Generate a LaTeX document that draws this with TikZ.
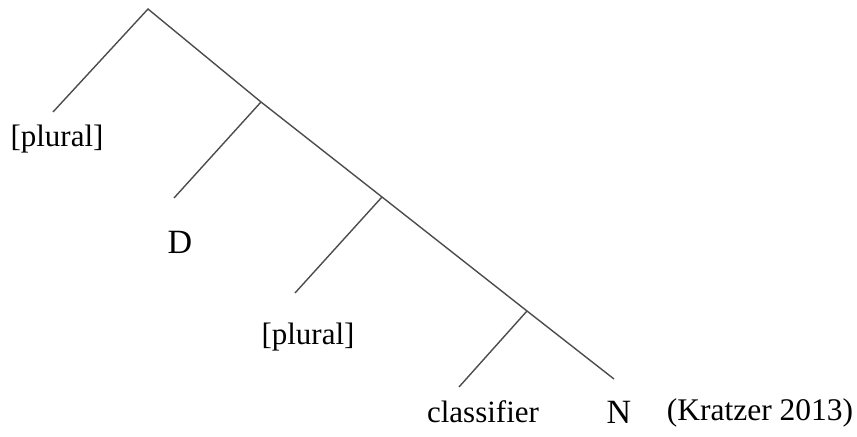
\documentclass[tikz,border=0pt]{standalone}
\usepackage{fontspec}
\setmainfont{Liberation Serif}
\begin{document}
\begin{tikzpicture}[x=0.5pt,y=-0.5pt,
  branch/.style={draw=black!70,line width=0.7pt},
  lab/.style={inner sep=0pt,font=\fontsize{15.5}{18}\selectfont},
  caplab/.style={inner sep=0pt,font=\fontsize{17}{20}\selectfont}]
\useasboundingbox (0,0) rectangle (857,437);
\coordinate (root) at (148,9);
\coordinate (b1) at (261,102);
\coordinate (b2) at (382,197);
\coordinate (b3) at (527,311);
\coordinate (e0) at (53,112);
\coordinate (e1) at (174,198);
\coordinate (e2) at (295,293);
\coordinate (e3) at (459,387);
\coordinate (eN) at (614,379);
\draw[branch] (e0) -- (root) -- (b1) -- (b2) -- (b3) -- (eN);
\draw[branch] (b1) -- (e1);
\draw[branch] (b2) -- (e2);
\draw[branch] (b3) -- (e3);
\node[lab] (pl1) at (57,139) {[plural]};
\node[caplab] (d) at (180,242) {D};
\node[lab] (pl2) at (308,337) {[plural]};
\node[lab] (cl) at (483,412) {classifier};
\node[caplab] (n) at (619,412) {N};
\node[inner sep=0pt,font=\fontsize{15.75}{18}\selectfont] (src) at (760,413) {(Kratzer 2013)};
\end{tikzpicture}
\end{document}
